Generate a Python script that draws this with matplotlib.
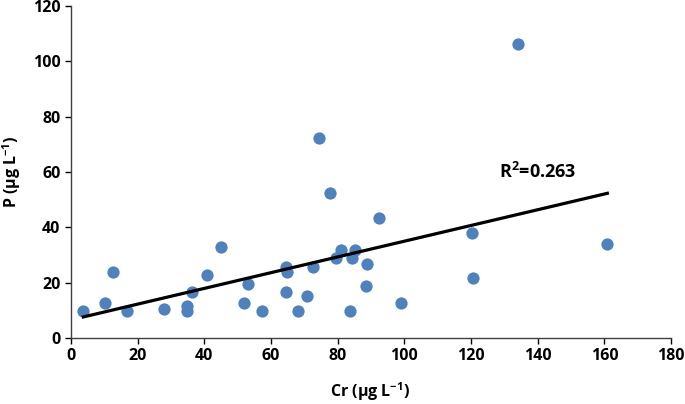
import numpy as np
import matplotlib
matplotlib.use("Agg")
import matplotlib.pyplot as plt

cr = [3.7, 10.3, 12.5, 16.7, 27.9, 34.7, 34.7, 36.2, 40.7, 44.9, 51.8, 53.2, 57.4,
      64.4, 64.9, 64.4, 68.0, 70.8, 72.7, 74.5, 77.8, 79.6, 81.0, 83.8, 84.3, 85.1,
      88.4, 88.9, 92.5, 98.9, 120.3, 120.7, 134.2, 160.9]
p = [9.9, 12.8, 23.9, 9.9, 10.5, 11.7, 9.9, 16.5, 22.8, 32.9, 12.8, 19.5, 9.9,
     25.8, 23.9, 16.6, 9.9, 15.1, 25.5, 72.4, 52.3, 28.8, 31.8, 9.9, 28.8, 31.8,
     18.9, 26.6, 43.4, 12.8, 37.8, 21.7, 106.4, 33.9]
r2_text = "R$^{2}$=0.263"
x_ticks = [0, 20, 40, 60, 80, 100, 120, 140, 160, 180]
y_ticks = [0, 20, 40, 60, 80, 100, 120]

plt.rcParams['font.family'] = ['Open Sans', 'DejaVu Sans']
plt.rcParams['font.weight'] = 'bold'
plt.rcParams['mathtext.fontset'] = 'custom'
plt.rcParams['mathtext.bf'] = 'Open Sans:bold'
plt.rcParams['mathtext.rm'] = 'Open Sans:bold'
plt.rcParams['mathtext.default'] = 'bf'

fig = plt.figure(figsize=(6.85, 4.04), dpi=100)
ax = fig.add_axes([0.1036, 0.1634, 0.876, 0.8216])

ax.scatter(cr, p, s=78, color='#4F81BD', zorder=3, linewidths=0)

slope, intercept = np.polyfit(cr, p, 1)
xl = np.array([min(cr), max(cr)])
ax.plot(xl, slope * xl + intercept, color='black', lw=2.3, zorder=4)

ax.text(128.5, 60, r2_text, fontsize=13, fontweight='bold', ha='left', va='center')

ax.set_xlim(0, 180)
ax.set_ylim(0, 120)
ax.set_xticks(x_ticks)
ax.set_yticks(y_ticks)
ax.tick_params(direction='out', length=4, width=1, labelsize=11.5, colors='black')
for lab in ax.get_xticklabels() + ax.get_yticklabels():
    lab.set_fontweight('bold')
for s in ['top', 'right']:
    ax.spines[s].set_visible(False)
for s in ['left', 'bottom']:
    ax.spines[s].set_color('#404040')
    ax.spines[s].set_linewidth(1)

ax.set_xlabel("Cr (μg L$^{-1}$)", fontsize=11.5, fontweight='bold')
ax.set_ylabel("P (μg L$^{-1}$)", fontsize=11.5, fontweight='bold')
ax.xaxis.set_label_coords(0.498, -0.128)
ax.yaxis.set_label_coords(-0.08, 0.5)

fig.savefig("out.png", dpi=100)
